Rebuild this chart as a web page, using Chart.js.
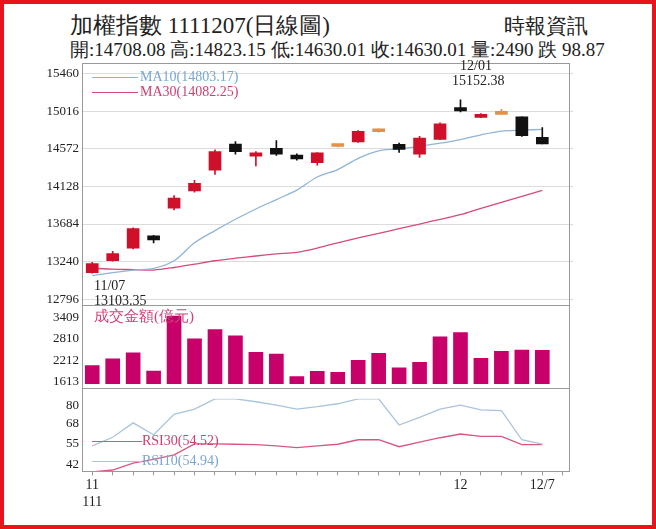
<!DOCTYPE html>
<html><head><meta charset="utf-8">
<script src="https://cdn.jsdelivr.net/npm/chart.js@4"></script>
<style>
html,body{margin:0;padding:0;background:#fff;}
#frame{position:absolute;left:0;top:0;width:648px;height:521px;border:4px solid #e8141c;overflow:hidden;font-family:"Liberation Serif","DejaVu Serif",serif;}
.t{position:absolute;white-space:nowrap;line-height:1;}
.cv{position:absolute;left:0;width:569px;}
.box{position:absolute;border:1px solid #999;pointer-events:none;}
.ln{position:absolute;height:1px;}
</style></head><body>
<div id="frame">
<div class="t" style="left:66px;top:10px;font-size:23px;color:#222">加權指數 1111207(日線圖)</div>
<div class="t" style="left:500px;top:12px;font-size:21px;color:#222">時報資訊</div>
<div class="t" style="left:66px;top:36px;font-size:19px;color:#222">開:14708.08 高:14823.15 低:14630.01 收:14630.01 量:2490 跌 98.87</div>
<div class="cv" style="top:59px;height:250px"><canvas id="c1"></canvas></div>
<div class="cv" style="top:301px;height:91px"><canvas id="c2"></canvas></div>
<div class="cv" style="top:384px;height:125px"><canvas id="c3"></canvas></div>
<div class="box" style="left:78px;top:59px;width:486px;height:407px"></div>
<div class="ln" style="left:78px;top:301px;width:487px;background:#999"></div>
<div class="ln" style="left:78px;top:384px;width:487px;background:#999"></div>
<div class="ln" style="left:88px;top:73px;width:46px;background:#8fb4d6"></div>
<div class="t" style="left:136px;top:66px;font-size:14px;color:#7aa6cf">MA10(14803.17)</div>
<div class="ln" style="left:88px;top:88px;width:46px;background:#d84a78"></div>
<div class="t" style="left:136px;top:81px;font-size:14px;color:#d0406e">MA30(14082.25)</div>
<div class="t" style="left:90px;top:275px;font-size:14px;color:#222">11/07</div>
<div class="t" style="left:90px;top:290px;font-size:14px;color:#222">13103.35</div>
<div class="t" style="left:456px;top:55px;font-size:14px;color:#222">12/01</div>
<div class="t" style="left:448px;top:70px;font-size:14px;color:#222">15152.38</div>
<div class="t" style="left:90px;top:305px;font-size:15px;color:#d0407a">成交金額(億元)</div>
<div class="ln" style="left:88px;top:437px;width:50px;background:#d9577f"></div>
<div class="t" style="left:138px;top:430px;font-size:14px;color:#d0406e">RSI30(54.52)</div>
<div class="ln" style="left:88px;top:457px;width:50px;background:#a9c4dc"></div>
<div class="t" style="left:138px;top:450px;font-size:14px;color:#7aa6cf">RSI10(54.94)</div>
</div>
<script>
const dates=['11/07','11/08','11/09','11/10','11/11','11/14','11/15','11/16','11/17','11/18','11/21','11/22','11/23','11/24','11/25','11/28','11/29','11/30','12/01','12/02','12/05','12/06','12/07',''];
const openP =[13110,13250,13400,13545,13870,14075,14320,14630,14485,14580,14500,14410,14600,14655,14775,14625,14510,14685,15060,14945,14980,14950,14708];
const closeP=[13215,13335,13630,13495,13990,14165,14540,14540,14525,14510,14455,14525,14610,14780,14785,14565,14700,14870,15020,14970,14990,14729,14630];
const highP =[13230,13360,13640,13550,14020,14200,14560,14660,14540,14670,14515,14530,14625,14790,14810,14640,14720,14880,15152,14990,15040,14950,14823];
const lowP  =[13103,13245,13390,13460,13850,14060,14270,14510,14370,14495,14440,14380,14595,14650,14770,14530,14470,14680,15010,14940,14980,14720,14630];
const ma10=[13075,13110,13140,13160,13250,13462,13606,13740,13862,13973,14084,14240,14328,14461,14550,14572,14605,14640,14683,14739,14783,14794,14803];
const ma30=[13162,13150,13145,13140,13170,13210,13250,13280,13306,13330,13350,13400,13462,13520,13573,13630,13684,13740,13795,13870,13940,14010,14082];
const volume=[2058,2250,2419,1905,3600,2811,3071,2896,2435,2380,1750,1896,1873,2205,2403,2000,2150,2864,2989,2265,2458,2496,2490];
const rsi10=[53.8,59.3,68.6,60.9,74.1,77.4,84,84,82.2,80,77.4,79,80.9,84,84,67.2,72.1,77.4,80,76.9,76.5,57.7,54.94];
const rsi30=[36.9,38.2,42.6,45,48,55,55,54.8,54.5,53.8,52.6,53.8,54.8,57.7,57.7,53.2,56.1,59,61.4,59.9,59.9,54.5,54.52];
const priceTicks=[12796,13240,13684,14128,14572,15016,15460];
const volTicks=[1613,2212,2810,3409];
const rsiTicks=[42,55,68,80];
const xTickLabels={0:['11','111'],18:'12',22:'12/7'};

const FONT={family:'"Liberation Serif", serif',size:13};
const candleColor=openP.map((o,i)=>Math.abs(closeP[i]-o)<12?'#e39048':(closeP[i]>o?'#d0102a':'#111'));
function yAxis(min,max,ticks,grid){
  return {min:min,max:max,afterBuildTicks:s=>{s.ticks=ticks.map(v=>({value:v}));},
    afterFit:s=>{s.width=78;},
    ticks:{color:'#222',font:FONT,padding:3,autoSkip:false,callback:v=>String(v)},
    grid:{display:grid,color:'#dcdcdc',drawTicks:false},border:{display:false}};
}
function xHidden(){return {offset:true,ticks:{display:false},grid:{display:false},border:{display:false}};}
Chart.defaults.animation=false;
Chart.defaults.plugins.legend.display=false;
Chart.defaults.plugins.tooltip.enabled=false;
Chart.defaults.maintainAspectRatio=false;
Chart.defaults.responsive=true;

new Chart(document.getElementById('c1'),{
  data:{labels:dates,datasets:[
    {type:'line',data:ma10,borderColor:'#8fb4d6',borderWidth:1.3,pointRadius:0,tension:0.3,order:3},
    {type:'line',data:ma30,borderColor:'#d84a78',borderWidth:1.3,pointRadius:0,tension:0.3,order:3},
    {type:'bar',data:lowP.map((l,i)=>[l,highP[i]]),backgroundColor:candleColor,barThickness:1,grouped:false,order:2},
    {type:'bar',data:openP.map((o,i)=>[o,closeP[i]]),backgroundColor:candleColor,barThickness:12,minBarLength:3,grouped:false,order:1}
  ]},
  options:{layout:{padding:{top:4,bottom:4,right:0}},
    scales:{x:xHidden(),y:yAxis(12774,15460,priceTicks,true)}}
});
new Chart(document.getElementById('c2'),{
  data:{labels:dates,datasets:[
    {type:'bar',data:volume,backgroundColor:'#c8006a',barThickness:14}
  ]},
  options:{layout:{padding:{top:4,bottom:4,right:0}},
    scales:{x:xHidden(),y:yAxis(1544,3456,volTicks,false)}}
});
new Chart(document.getElementById('c3'),{
  data:{labels:dates,datasets:[
    {type:'line',data:rsi10,borderColor:'#a9c4dc',borderWidth:1.3,pointRadius:0,tension:0},
    {type:'line',data:rsi30,borderColor:'#d9577f',borderWidth:1.3,pointRadius:0,tension:0}
  ]},
  options:{layout:{padding:{top:4,bottom:0,right:0}},
    scales:{x:{offset:true,grid:{display:true,drawOnChartArea:false,tickLength:4,color:'#999'},border:{display:false},
      ticks:{autoSkip:false,maxRotation:0,color:'#222',font:{family:'"Liberation Serif", serif',size:14},padding:2,
        callback:(v,i)=>xTickLabels[i]!==undefined?xTickLabels[i]:''}},
      y:yAxis(37.3,84.1,rsiTicks,false)}}
});
</script>
</body></html>
